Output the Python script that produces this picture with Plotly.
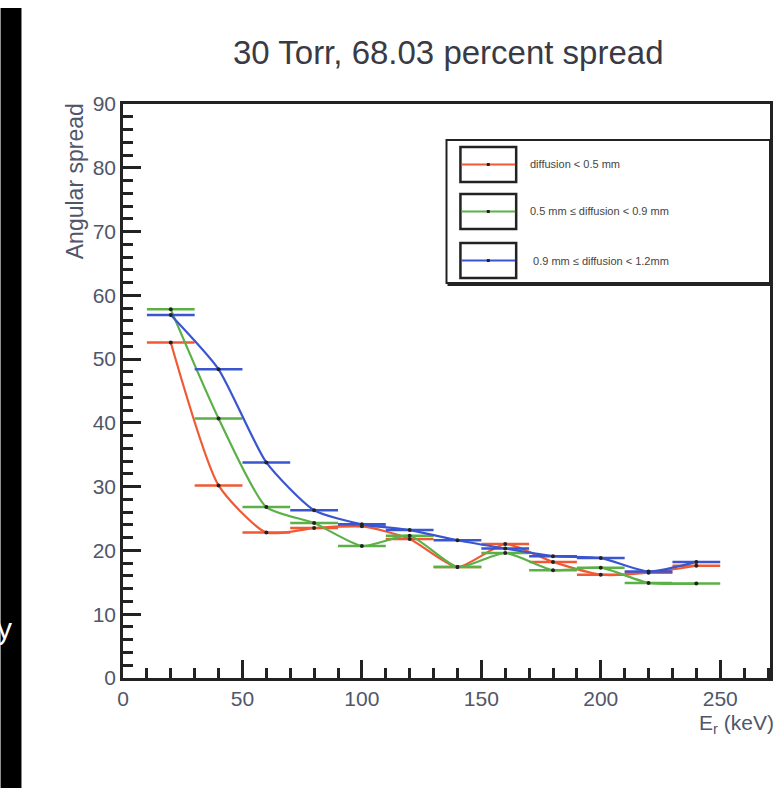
import plotly.graph_objects as go

# ---- data ----
energy = [20, 40, 60, 80, 100, 120, 140, 160, 180, 200, 220, 240]
bin_half_width = [10] * 12
spread_lt05 = [52.6, 30.2, 22.8, 23.5, 23.8, 21.8, 17.4, 21.0, 18.2, 16.2, 16.5, 17.6]
spread_05_09 = [57.8, 40.7, 26.8, 24.3, 20.7, 22.3, 17.4, 19.6, 16.9, 17.3, 14.9, 14.8]
spread_09_12 = [56.9, 48.4, 33.8, 26.3, 24.1, 23.2, 21.6, 20.3, 19.1, 18.8, 16.7, 18.2]
series_names = ["diffusion < 0.5 mm", "0.5 mm \u2264 diffusion < 0.9 mm", " 0.9 mm \u2264 diffusion < 1.2mm"]
series_colors = ["#ef5a35", "#5cb048", "#3a55d0"]
title_text = "30 Torr, 68.03 percent spread"
ytitle = "Angular spread"
xtitle = "E<sub>r</sub> (keV)"

W, H = 778, 788
L, R, T, B = 123, 773, 104, 678


def px(x):
    return (x - L) / (R - L)


def py(y):
    return (B - y) / (B - T)


fig = go.Figure()
for vals, col in zip([spread_lt05, spread_05_09, spread_09_12], series_colors):
    fig.add_trace(go.Scatter(
        x=energy, y=vals, mode="lines+markers",
        line=dict(color=col, width=2.2, shape="spline", smoothing=0.6),
        marker=dict(color="#222222", size=4),
        error_x=dict(type="data", array=bin_half_width, color=col, thickness=2.5, width=0),
        showlegend=False,
    ))

shapes = []
# black strip on the left
shapes.append(dict(type="rect", xref="paper", yref="paper",
                   x0=px(0), x1=px(21), y0=py(788), y1=py(8),
                   fillcolor="black", line=dict(width=0), layer="above"))
# legend frame
shapes.append(dict(type="rect", xref="paper", yref="paper",
                   x0=px(448), x1=px(773), y0=py(283), y1=py(140),
                   line=dict(color="#222222", width=2), fillcolor="white", layer="above"))
shapes.append(dict(type="line", xref="paper", yref="paper",
                   x0=px(449), x1=px(773), y0=py(284.5), y1=py(284.5),
                   line=dict(color="#222222", width=3), layer="above"))
box_tops = [147, 194, 243]
annotations = []
for top, col, name in zip(box_tops, series_colors, series_names):
    shapes.append(dict(type="rect", xref="paper", yref="paper",
                       x0=px(462), x1=px(518), y0=py(top + 35), y1=py(top),
                       line=dict(color="#222222", width=2.5), layer="above"))
    mid = top + 17.5
    shapes.append(dict(type="line", xref="paper", yref="paper",
                       x0=px(463), x1=px(517), y0=py(mid), y1=py(mid),
                       line=dict(color=col, width=2), layer="above"))
    shapes.append(dict(type="rect", xref="paper", yref="paper",
                       x0=px(488.5), x1=px(491.5), y0=py(mid + 1.5), y1=py(mid - 1.5),
                       fillcolor="#222222", line=dict(width=0), layer="above"))
    annotations.append(dict(text=name, xref="paper", yref="paper", x=px(530), y=py(mid),
                            xanchor="left", yanchor="middle", showarrow=False,
                            font=dict(size=11, color="#444444", family="Liberation Sans")))

annotations.append(dict(text=title_text, xref="paper", yref="paper", x=px(450), y=py(53),
                        xanchor="center", yanchor="middle", showarrow=False,
                        font=dict(size=33, color="#3a3a44", family="Liberation Sans")))
annotations.append(dict(text=ytitle, xref="paper", yref="paper", x=px(75), y=py(101),
                        xanchor="center", yanchor="top", showarrow=False, textangle=-90,
                        font=dict(size=23, color="#50566a", family="Liberation Sans")))
annotations.append(dict(text=xtitle, xref="paper", yref="paper", x=px(700), y=py(724),
                        xanchor="left", yanchor="middle", showarrow=False,
                        font=dict(size=21, color="#50566a", family="Liberation Sans")))
annotations.append(dict(text="y", xref="paper", yref="paper", x=px(-6), y=py(628),
                        xanchor="left", yanchor="middle", showarrow=False,
                        font=dict(size=30, color="white", family="Liberation Sans")))

fig.update_layout(
    width=W, height=H,
    margin=dict(l=L, r=W - R, t=T, b=H - B, pad=0),
    paper_bgcolor="white", plot_bgcolor="white",
    shapes=shapes, annotations=annotations,
    showlegend=False,
)
fig.update_xaxes(
    range=[0, (R - L) / 2.4], dtick=50, tick0=0,
    ticks="inside", ticklen=18, tickwidth=2.5, tickcolor="#222222",
    minor=dict(dtick=10, ticks="inside", ticklen=10, tickwidth=3, tickcolor="#222222"),
    showline=True, linecolor="#222222", linewidth=2.5, mirror=True,
    showgrid=False, zeroline=False,
    tickfont=dict(size=21, color="#50566a", family="Liberation Sans"),
)
fig.update_yaxes(
    range=[0, 90], dtick=10, tick0=0,
    ticks="inside", ticklen=18, tickwidth=2.5, tickcolor="#222222",
    minor=dict(dtick=2, ticks="inside", ticklen=10, tickwidth=3, tickcolor="#222222"),
    showline=True, linecolor="#222222", linewidth=2.5, mirror=True,
    showgrid=False, zeroline=False,
    tickfont=dict(size=21, color="#50566a", family="Liberation Sans"),
)

fig.write_html("out.html")
